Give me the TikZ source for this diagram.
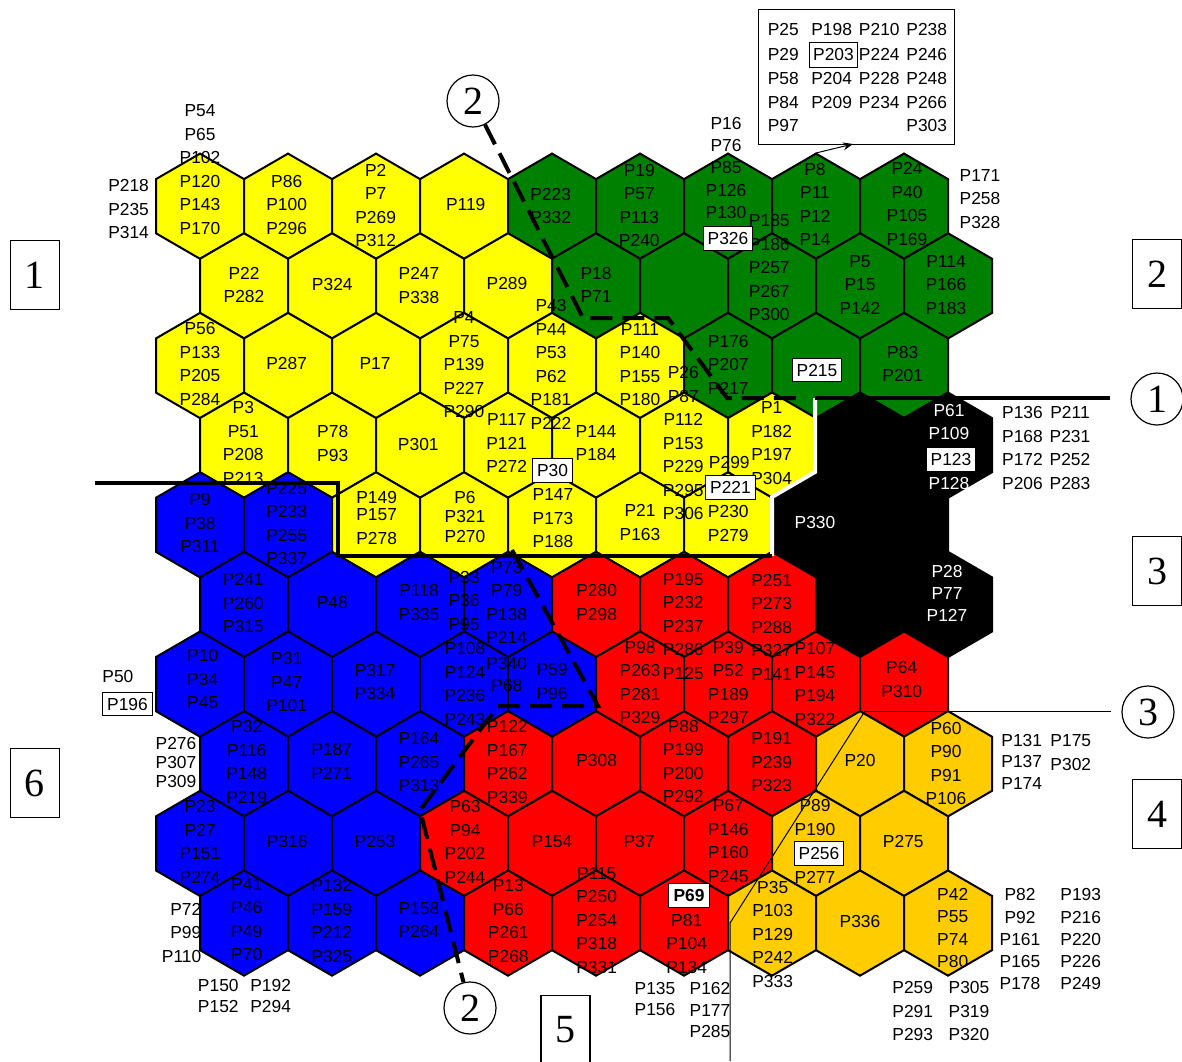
\documentclass[tikz,border=0pt]{standalone}
\usepackage{fontspec}
\setmainfont{Liberation Serif}
\newfontfamily\labfont{Liberation Sans}
\usetikzlibrary{arrows.meta}
\definecolor{cY}{RGB}{255,255,0}
\definecolor{cG}{RGB}{0,128,0}
\definecolor{cB}{RGB}{0,0,255}
\definecolor{cR}{RGB}{255,0,0}
\definecolor{cO}{RGB}{255,204,0}
\definecolor{cK}{RGB}{0,0,0}
\newcommand\hx[3]{\path[hexline,fill=#3] (#1,#2) +(0,-52.6) -- +(44,-27.1) -- +(44,27.1) -- +(0,52.6) -- +(-44,27.1) -- +(-44,-27.1) -- cycle;}
\begin{document}
\begin{tikzpicture}[x=0.5pt,y=-0.5pt,
  hexline/.style={draw=black,line width=1pt,line join=miter},
  lbl/.style={font=\labfont\fontsize{8.7}{11.75}\selectfont,align=center,inner sep=0pt},
  wlbl/.style={lbl,text=white},
  bx/.style={lbl,draw=black,fill=white,line width=0.5pt,inner xsep=2.3pt,minimum height=11.75pt},
  sq/.style={draw=black,line width=0.6pt,minimum width=24.5pt,minimum height=34.5pt,inner sep=0pt,font=\fontsize{20}{20}\selectfont},
  circ/.style={circle,draw=black,line width=0.6pt,minimum size=26pt,inner sep=0pt,font=\fontsize{20}{20}\selectfont},
  thickline/.style={line width=2pt},
  dashline/.style={line width=2pt,dash pattern=on 11pt off 5pt},
  thinline/.style={line width=0.5pt}]
\fill[white] (0,0) rectangle (1182,1061);
\useasboundingbox (0,0) rectangle (1182,1061);
% hex grid
\foreach \r/\row in {1/{cY,cY,cY,cY,cG,cG,cG,cG,cG},
                     2/{cY,cY,cY,cY,cG,cG,cG,cG,cG},
                     3/{cY,cY,cY,cY,cY,cY,cG,cG,cG},
                     4/{cY,cY,cY,cY,cY,cY,cY,cK,cK},
                     5/{cB,cB,cY,cY,cY,cY,cY,cK,cK},
                     6/{cB,cB,cB,cB,cR,cR,cR,cK,cK},
                     7/{cB,cB,cB,cB,cB,cR,cR,cR,cR},
                     8/{cB,cB,cB,cR,cR,cR,cR,cO,cO},
                     9/{cB,cB,cB,cR,cR,cR,cR,cO,cO},
                     10/{cB,cB,cB,cR,cR,cR,cO,cO,cO}}{
  \pgfmathsetmacro\yy{206.2+79.65*(\r-1)}
  \pgfmathsetmacro\xo{ifthenelse(mod(\r,2)==1,200,244)}
  \foreach \c [count=\i from 0] in \row {
    \pgfmathsetmacro\xx{\xo+88*\i}
    \hx{\xx}{\yy}{\c}
  }
}
% labels
\node[lbl] (n1) at (200,169.7) {P54\\P65\\P102\\P120\\P143\\P170};
\node[lbl,align=right,anchor=east] (n2) at (149.3,209.2) {P218\\P235\\P314};
\node[lbl] (n3) at (286.7,205) {P86\\P100\\P296};
\node[lbl] (n4) at (375.7,205.5) {P2\\P7\\P269\\P312};
\node[lbl] (n5) at (465.7,205) {P119};
\node[lbl] (n6) at (550.7,205.8) {P223\\P332};
\node[lbl] (n7) at (639.3,205.5) {P19\\P57\\P113\\P240};
\node[lbl] (n8) at (726,168) {P16\\[-0.6pt]P76\\[-0.6pt]P85\\[-0.6pt]P126\\[-0.6pt]P130};
\node[lbl] (n9) at (815,204.2) {P8\\P11\\P12\\P14};
\node[lbl] (n10) at (907,204) {P24\\P40\\P105\\P169};
\node[lbl] (n11) at (980,199) {P171\\P258\\P328};
\node[lbl] (n12) at (244,285) {P22\\P282};
\node[lbl] (n13) at (332.3,285) {P324};
\node[lbl] (n14) at (419,285.3) {P247\\P338};
\node[lbl] (n15) at (507,284) {P289};
\node[lbl] (n16) at (596,285) {P18\\P71};
\node[lbl] (n17) at (769.3,268) {P185\\P186\\P257\\P267\\P300};
\node[bx] (n18) at (728,238.5) {P326};
\node[lbl] (n19) at (860,284.8) {P5\\P15\\P142};
\node[lbl] (n20) at (946,285) {P114\\P166\\P183};
\node[lbl] (n21) at (200,364.2) {P56\\P133\\P205\\P284};
\node[lbl] (n22) at (286.7,364) {P287};
\node[lbl] (n23) at (375,364) {P17};
\node[lbl] (n24) at (464,365) {P4\\P75\\P139\\P227\\P290};
\node[lbl] (n25) at (551,364.2) {P43\\P44\\P53\\P62\\P181\\P222};
\node[lbl] (n26) at (640,364.7) {P111\\P140\\P155\\P180};
\node[lbl] (n27) at (728.3,364.5) {P176\\P207\\P217};
\node[bx] (n28) at (817,370) {P215};
\node[lbl] (n29) at (902.7,363.8) {P83\\P201};
\node[lbl] (n30) at (243.3,442.8) {P3\\P51\\P208\\P213};
\node[lbl] (n31) at (332.7,443.3) {P78\\P93};
\node[lbl] (n32) at (418.3,444.3) {P301};
\node[lbl] (n33) at (506.7,443.3) {P117\\P121\\P272};
\node[lbl] (n34) at (596,443.3) {P144\\P184};
\node[lbl] (n35) at (683.3,443.3) {P26\\P87\\P112\\P153\\P229\\P295\\P306};
\node[lbl] (n36) at (771.7,443.3) {P1\\P182\\P197\\P304};
\node[wlbl] (n37) at (949,422.2) {P61\\P109};
\node[bx] (n38) at (951,459.3) {P123};
\node[wlbl] (n39) at (949,483.3) {P128};
\node[lbl] (n40) at (1022.5,448) {P136\\P168\\P172\\P206};
\node[lbl] (n41) at (1070,448) {P211\\P231\\P252\\P283};
\node[lbl] (n42) at (200,523.3) {P9\\P38\\P311};
\node[lbl] (n43) at (286.7,523.3) {P225\\P233\\P255\\P337};
\node[lbl] (n44) at (376.7,517.8) {P149\\[-2.9pt]P157\\P278};
\node[lbl] (n45) at (465,517) {P6\\[-2.4pt]P321\\[-1.4pt]P270};
\node[bx] (n46) at (552.5,470.5) {P30};
\node[lbl] (n47) at (553,518.3) {P147\\P173\\P188};
\node[lbl] (n48) at (640,522.5) {P21\\P163};
\node[lbl] (n49) at (729.3,462.3) {P299};
\node[bx] (n50) at (730.5,487.5) {P221};
\node[lbl] (n51) at (728.3,523.3) {P230\\P279};
\node[wlbl] (n52) at (815,522.7) {P330};
\node[lbl] (n53) at (243.3,603.3) {P241\\P260\\P315};
\node[lbl] (n54) at (332.3,602.7) {P48};
\node[lbl] (n55) at (419,602.5) {P118\\P335};
\node[lbl] (n56) at (464,600.5) {P33\\P36\\P95};
\node[lbl] (n57) at (506.7,602.5) {P73\\P79\\P138\\P214};
\node[lbl] (n58) at (596.7,602.5) {P280\\P298};
\node[lbl] (n59) at (683.3,626) {P195\\P232\\P237\\P286\\P125};
\node[lbl] (n60) at (771.7,627) {P251\\P273\\P288\\P327\\P141};
\node[wlbl] (n61) at (947,593.3) {P28\\[-0.9pt]P77\\[-0.9pt]P127};
\node[lbl] (n62) at (202.7,679.2) {P10\\P34\\P45};
\node[lbl] (n63) at (117.9,676.7) {P50};
\node[bx] (n64) at (127.5,704) {P196};
\node[lbl] (n65) at (286.7,682.2) {P31\\P47\\P101};
\node[lbl] (n66) at (375,682) {P317\\P334};
\node[lbl] (n67) at (465,684.2) {P108\\P124\\P236\\P243};
\node[lbl] (n68) at (506.7,674.2) {P340\\[-0.9pt]P68};
\node[lbl] (n69) at (552,681.7) {P59\\P96};
\node[lbl] (n70) at (640,682.5) {P98\\P263\\P281\\P329};
\node[lbl] (n71) at (728.3,682.5) {P39\\P52\\P189\\P297};
\node[lbl] (n72) at (815,683.8) {P107\\P145\\P194\\P322};
\node[lbl] (n73) at (901.7,679.7) {P64\\P310};
\node[lbl] (n74) at (946,763.7) {P60\\P90\\P91\\P106};
\node[lbl] (n75) at (1021.7,761.7) {P131\\[-1pt]P137\\[-1pt]P174};
\node[lbl] (n76) at (1070.8,752.5) {P175\\P302};
\node[lbl] (n77) at (246.7,762.2) {P32\\P116\\P148\\P219};
\node[lbl,align=right,anchor=east] (n78) at (196.7,762.8) {P276\\[-2.3pt]P307\\[-2.3pt]P309};
\node[lbl] (n79) at (331.7,761.3) {P187\\P271};
\node[lbl] (n80) at (419,762) {P164\\P265\\P313};
\node[lbl] (n81) at (507.3,762) {P122\\P167\\P262\\P339};
\node[lbl] (n82) at (596.7,760.7) {P308};
\node[lbl] (n83) at (683.3,761.7) {P88\\P199\\P200\\P292};
\node[lbl] (n84) at (771.7,762) {P191\\P239\\P323};
\node[lbl] (n85) at (860,760.7) {P20};
\node[lbl] (n86) at (200,841.7) {P23\\P27\\P151\\P274};
\node[lbl] (n87) at (287.3,841.7) {P316};
\node[lbl] (n88) at (375,841.7) {P253};
\node[lbl] (n89) at (465,841.7) {P63\\P94\\P202\\P244};
\node[lbl] (n90) at (552,841.7) {P154};
\node[lbl] (n91) at (639,841.7) {P37};
\node[lbl] (n92) at (728.3,841.2) {P67\\P146\\P160\\P245};
\node[lbl] (n93) at (815,817.5) {P89\\P190};
\node[bx] (n94) at (819,853.5) {P256};
\node[lbl] (n95) at (815,877.3) {P277};
\node[lbl] (n96) at (903.3,841.7) {P275};
\node[lbl] (n97) at (246.7,919.7) {P41\\P46\\P49\\P70};
\node[lbl,align=right,anchor=east] (n98) at (201.7,932.8) {P72\\P99\\P110};
\node[lbl] (n99) at (218.3,995.8) {P150\\[-1pt]P152};
\node[lbl] (n100) at (270.7,995.8) {P192\\[-1pt]P294};
\node[lbl] (n101) at (331.7,920.8) {P132\\P159\\P212\\P325};
\node[lbl] (n102) at (419,920) {P158\\P264};
\node[lbl] (n103) at (508.3,920.8) {P13\\P66\\P261\\P268};
\node[lbl] (n104) at (596.7,920.5) {P115\\P250\\P254\\P318\\P331};
\node[bx,font=\labfont\bfseries\fontsize{8.7}{11.75}\selectfont] (n105) at (689,895.5) {P69};
\node[lbl] (n106) at (686.7,943.7) {P81\\P104\\P134};
\node[lbl] (n107) at (655,999.2) {P135\\[-1pt]P156};
\node[lbl] (n108) at (710,1010) {P162\\[-1pt]P177\\[-1pt]P285};
\node[lbl] (n109) at (772.7,934) {P35\\P103\\P129\\P242\\P333};
\node[lbl] (n110) at (860,921.7) {P336};
\node[lbl] (n111) at (952.7,928) {P42\\[-0.6pt]P55\\[-0.6pt]P74\\[-0.6pt]P80};
\node[lbl] (n112) at (1020,939.3) {P82\\[-0.6pt]P92\\[-0.6pt]P161\\[-0.6pt]P165\\[-0.6pt]P178};
\node[lbl] (n113) at (1080.7,939.3) {P193\\[-0.6pt]P216\\[-0.6pt]P220\\[-0.6pt]P226\\[-0.6pt]P249};
\node[lbl] (n114) at (912.7,1011) {P259\\P291\\P293};
\node[lbl] (n115) at (969,1011) {P305\\P319\\P320};
% info box
\node[draw=black,line width=0.5pt,minimum width=98pt,minimum height=67.5pt,inner sep=0pt] (infobox) at (856,76.5) {};
\foreach \t/\x/\y [count=\k] in {P25/783.3/29.3,P198/831.7/29.3,P210/879.3/29.3,P238/926.7/29.3,
  P29/783.3/54.3,P224/879.3/54.3,P246/926.7/54.3,
  P58/783.3/78.3,P204/831.7/78.3,P228/879.3/78.3,P248/926.7/78.3,
  P84/783.3/102.3,P209/831.7/102.3,P234/879.3/102.3,P266/926.7/102.3,
  P97/783.3/126,P303/926.7/126}
  \node[lbl] (ib\k) at (\x,\y) {\t};
\node[bx,minimum height=12.5pt,inner xsep=1.8pt] (ib203) at (833.5,54.5) {P203};
\coordinate (ar0) at (816,153);
\coordinate (ar1) at (853,144);
\draw[thinline,-{Stealth[length=5pt,width=4pt]}] (ar0) -- (ar1);
% square labels
\node[sq] (s1) at (35,275) {1};
\node[sq] (s2) at (1157,274) {2};
\node[sq] (s3) at (1157,571) {3};
\node[sq] (s4) at (1157,814) {4};
\node[sq] (s5) at (565.5,1030) {5};
\node[sq] (s6) at (35,783) {6};
% circles
\node[circ] (c1) at (1157,399) {1};
\node[circ] (c2t) at (473,101) {2};
\node[circ] (c2b) at (470,1008) {2};
\node[circ] (c3) at (1148,712) {3};
% boundary lines
\coordinate (j1) at (815,398);
\coordinate (w1) at (815,472);
\coordinate (w2) at (772,497);
\coordinate (j2) at (772,556);
\coordinate (k1) at (338,556);
\coordinate (k2) at (338,483);
\coordinate (k3) at (95,483);
\draw[white,thickline] (j1) -- (w1) -- (w2) -- (j2);
\draw[thickline] (j2) -- (k1) -- (k2) -- (k3);
\draw[thickline,shorten >=10pt] (j1) -- (c1.west |- j1);
\coordinate (t1) at (583,318);
\coordinate (t2) at (668,318);
\coordinate (t3) at (727,398);
\coordinate (t4) at (805,398);
\draw[dashline] (c2t) -- (t1) -- (t2) -- (t3) -- (t4);
\coordinate (b0) at (512,550);
\coordinate (b1) at (598,706);
\coordinate (b2) at (498,706);
\coordinate (b3) at (420,810);
\draw[dashline] (b0) -- (b1) -- (b2) -- (b3) -- (c2b);
\coordinate (v3) at (865,711);
\coordinate (v4) at (730,923);
\coordinate (v5) at (730,1061);
\draw[thinline] (v3) -- (v4) -- (v5);
\draw[thinline,shorten >=5pt] (v3) -- (c3.west |- v3);
\end{tikzpicture}
\end{document}
